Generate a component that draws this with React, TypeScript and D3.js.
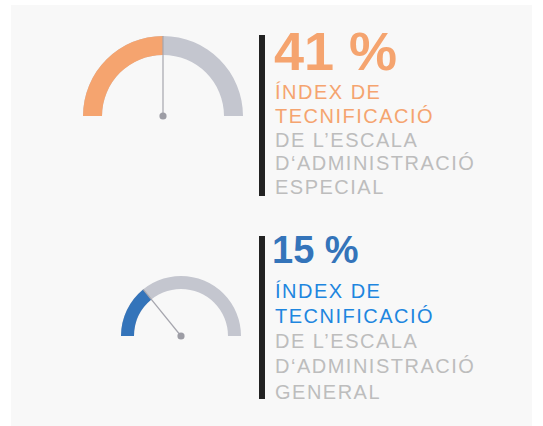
import React from "react";
import * as d3 from "d3";

const values = [41, 15];
const gaugeMax = [82, 53];
const numberLabels = ["41 %", "15 %"];
const highlightLines = [
  ["ÍNDEX DE", "TECNIFICACIÓ"],
  ["ÍNDEX DE", "TECNIFICACIÓ"],
];
const greyLines = [
  ["DE L’ESCALA", "D‘ADMINISTRACIÓ", "ESPECIAL"],
  ["DE L’ESCALA", "D‘ADMINISTRACIÓ", "GENERAL"],
];

const layouts = [
  { cx: 163, cy: 116, ro: 80, ri: 61, barY0: 35, barY1: 196, numY: 70, numSize: 54, numX: 274, firstLine: 99, lineH: 23.8, fill: "#F5A46F", textColor: "#F5A46F", numColor: "#F5A46F" },
  { cx: 181, cy: 336, ro: 60, ri: 47, barY0: 236, barY1: 399, numY: 263, numSize: 38, numX: 272, firstLine: 297.5, lineH: 25.3, fill: "#3474BA", textColor: "#1E86DF", numColor: "#3474BA" },
];

const FONT = "'Liberation Sans', Arial, Helvetica, sans-serif";

export default function App() {
  return (
    <svg width={543} height={426} style={{ position: "absolute", left: 0, top: 0 }}>
      <rect x={11} y={5} width={521} height={421} fill="#F8F8F8" />
      {values.map((v, i) => {
        const L = layouts[i];
        const angle = d3.scaleLinear().domain([0, gaugeMax[i]]).range([-Math.PI / 2, Math.PI / 2]).clamp(true);
        const arc = d3.arc<any>().innerRadius(L.ri).outerRadius(L.ro);
        const a = angle(v);
        const track = arc({ startAngle: -Math.PI / 2, endAngle: Math.PI / 2 }) as string;
        const filled = arc({ startAngle: -Math.PI / 2, endAngle: a }) as string;
        const nx = L.cx + Math.sin(a) * L.ro;
        const ny = L.cy - Math.cos(a) * L.ro;
        const lines = [...highlightLines[i], ...greyLines[i]];
        return (
          <g key={i}>
            <g transform={`translate(${L.cx},${L.cy})`}>
              <path d={track} fill="#C4C6CF" />
              <path d={filled} fill={L.fill} />
            </g>
            <line x1={L.cx} y1={L.cy} x2={nx} y2={ny} stroke="#A6A6AE" strokeWidth={1.2} />
            <circle cx={L.cx} cy={L.cy} r={3.6} fill="#9D9DA5" />
            <rect x={259} y={L.barY0} width={6} height={L.barY1 - L.barY0} fill="#222222" />
            <text x={L.numX} y={L.numY} fontFamily={FONT} fontWeight="bold" fontSize={L.numSize} fill={L.numColor}>
              {numberLabels[i]}
            </text>
            {lines.map((t, j) => (
              <text
                key={j}
                x={275}
                y={L.firstLine + j * L.lineH}
                fontFamily={FONT}
                fontSize={20}
                letterSpacing={1.5}
                fill={j < highlightLines[i].length ? L.textColor : "#BDBDBD"}
              >
                {t}
              </text>
            ))}
          </g>
        );
      })}
    </svg>
  );
}
